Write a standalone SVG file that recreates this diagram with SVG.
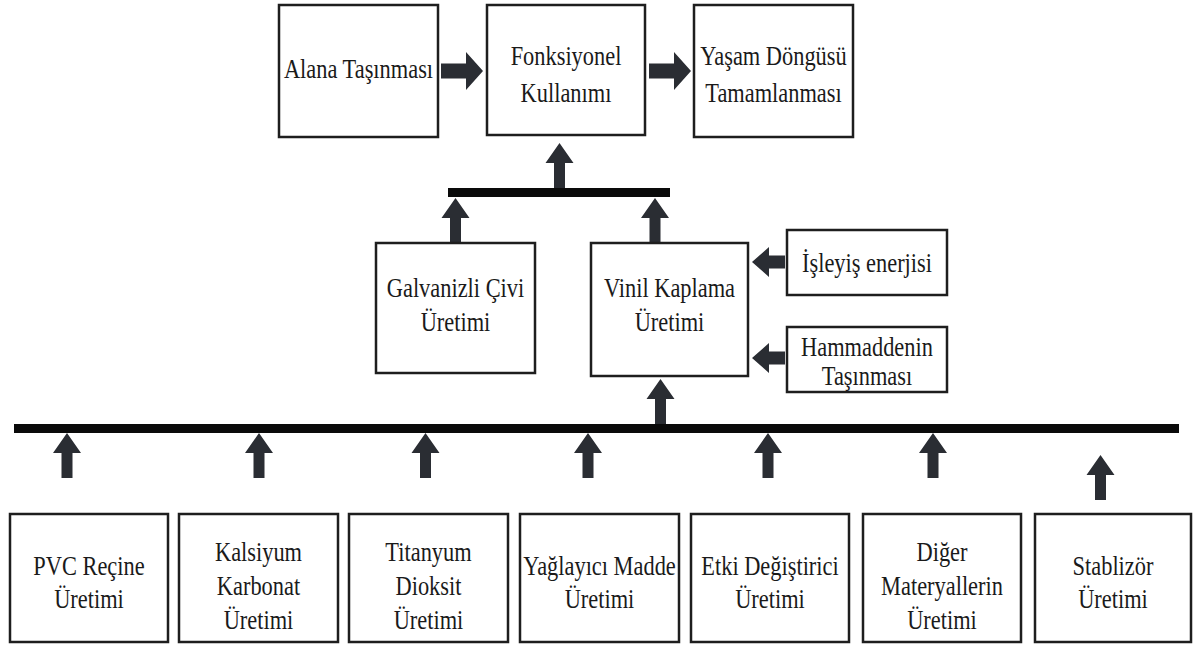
<svg xmlns="http://www.w3.org/2000/svg" xmlns:xlink="http://www.w3.org/1999/xlink" width="1194" height="648" viewBox="0 0 1194 648">
<style>
.box{fill:#fff;stroke:#1e1e1e;stroke-width:2.5}
.bar{fill:#0a0a0a}
.arr{fill:#2a2d33}
.t{font-family:"Liberation Serif","Times New Roman",serif;font-size:28px;text-anchor:middle;fill:#1a1a1a}
</style>
<defs>
<path id="up" d="M0,0 L14,20 L5.5,20 L5.5,45 L-5.5,45 L-5.5,20 L-14,20 Z"/>
<path id="right" d="M0,-7.5 L25,-7.5 L25,-19 L42,0 L25,19 L25,7.5 L0,7.5 Z"/>
<path id="left" d="M0,0 L17,-15 L17,-6.5 L33,-6.5 L33,6.5 L17,6.5 L17,15 Z"/>
</defs>
<rect width="1194" height="648" fill="#fff"/>

<g id="connectors" class="arr">
<use xlink:href="#right" href="#right" x="441" y="71"/>
<use xlink:href="#right" href="#right" x="649" y="71"/>
<use xlink:href="#up" href="#up" x="559.5" y="143"/>
<rect class="bar" x="448" y="188" width="222" height="9"/>
<use xlink:href="#up" href="#up" x="455.5" y="198"/>
<use xlink:href="#up" href="#up" x="655" y="198"/>
<use xlink:href="#left" href="#left" x="752" y="262"/>
<use xlink:href="#left" href="#left" x="752" y="358"/>
<use xlink:href="#up" href="#up" x="660.5" y="379"/>
<rect class="bar" x="14" y="424" width="1165" height="9"/>
<use xlink:href="#up" href="#up" x="67" y="433"/>
<use xlink:href="#up" href="#up" x="259" y="433"/>
<use xlink:href="#up" href="#up" x="425.5" y="433"/>
<use xlink:href="#up" href="#up" x="588" y="433"/>
<use xlink:href="#up" href="#up" x="768" y="433"/>
<use xlink:href="#up" href="#up" x="933" y="433"/>
<use xlink:href="#up" href="#up" x="1100.5" y="455"/>
</g>

<g id="alana">
<rect class="box" x="279" y="5" width="159" height="132"/>
<text class="t" transform="translate(358.5,78) scale(0.8,1)">Alana Taşınması</text>
</g>
<g id="fonksiyonel">
<rect class="box" x="487" y="5" width="158" height="130"/>
<text class="t" transform="translate(566,65) scale(0.8,1)">Fonksiyonel</text>
<text class="t" transform="translate(566,102) scale(0.8,1)">Kullanımı</text>
</g>
<g id="yasam">
<rect class="box" x="694" y="5" width="159" height="132"/>
<text class="t" transform="translate(773.5,65) scale(0.8,1)">Yaşam Döngüsü</text>
<text class="t" transform="translate(773.5,102) scale(0.8,1)">Tamamlanması</text>
</g>

<g id="galvanizli">
<rect class="box" x="376" y="243" width="159" height="130"/>
<text class="t" transform="translate(455.5,297) scale(0.8,1)">Galvanizli Çivi</text>
<text class="t" transform="translate(455.5,331) scale(0.8,1)">Üretimi</text>
</g>
<g id="vinil">
<rect class="box" x="591" y="243" width="157" height="133"/>
<text class="t" transform="translate(669.5,297) scale(0.8,1)">Vinil Kaplama</text>
<text class="t" transform="translate(669.5,331) scale(0.8,1)">Üretimi</text>
</g>
<g id="isleyis">
<rect class="box" x="787" y="230" width="160" height="65"/>
<text class="t" transform="translate(867,272) scale(0.8,1)">İşleyiş enerjisi</text>
</g>
<g id="hammadde">
<rect class="box" x="787" y="327" width="160" height="65"/>
<text class="t" transform="translate(867,356) scale(0.8,1)">Hammaddenin</text>
<text class="t" transform="translate(867,385) scale(0.8,1)">Taşınması</text>
</g>

<g id="pvc">
<rect class="box" x="10" y="514" width="158" height="128"/>
<text class="t" transform="translate(89,575) scale(0.8,1)">PVC Reçine</text>
<text class="t" transform="translate(89,608) scale(0.8,1)">Üretimi</text>
</g>
<g id="kalsiyum">
<rect class="box" x="179" y="514" width="159" height="128"/>
<text class="t" transform="translate(258.5,561) scale(0.8,1)">Kalsiyum</text>
<text class="t" transform="translate(258.5,595) scale(0.8,1)">Karbonat</text>
<text class="t" transform="translate(258.5,629) scale(0.8,1)">Üretimi</text>
</g>
<g id="titanyum">
<rect class="box" x="349" y="514" width="159" height="128"/>
<text class="t" transform="translate(428.5,561) scale(0.8,1)">Titanyum</text>
<text class="t" transform="translate(428.5,595) scale(0.8,1)">Dioksit</text>
<text class="t" transform="translate(428.5,629) scale(0.8,1)">Üretimi</text>
</g>
<g id="yaglayici">
<rect class="box" x="520" y="514" width="159" height="128"/>
<text class="t" transform="translate(599.5,575) scale(0.8,1)">Yağlayıcı Madde</text>
<text class="t" transform="translate(599.5,608) scale(0.8,1)">Üretimi</text>
</g>
<g id="etki">
<rect class="box" x="691" y="514" width="158" height="128"/>
<text class="t" transform="translate(770,575) scale(0.8,1)">Etki Değiştirici</text>
<text class="t" transform="translate(770,608) scale(0.8,1)">Üretimi</text>
</g>
<g id="diger">
<rect class="box" x="863" y="514" width="158" height="128"/>
<text class="t" transform="translate(942,561) scale(0.8,1)">Diğer</text>
<text class="t" transform="translate(942,595) scale(0.8,1)">Materyallerin</text>
<text class="t" transform="translate(942,629) scale(0.8,1)">Üretimi</text>
</g>
<g id="stablizor">
<rect class="box" x="1035" y="514" width="156" height="128"/>
<text class="t" transform="translate(1113,575) scale(0.8,1)">Stablizör</text>
<text class="t" transform="translate(1113,608) scale(0.8,1)">Üretimi</text>
</g>
</svg>
